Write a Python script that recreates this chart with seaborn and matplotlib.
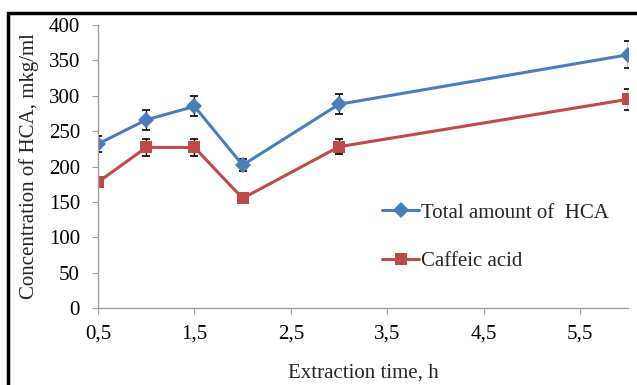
import matplotlib
matplotlib.use("Agg")
import matplotlib.pyplot as plt
from matplotlib.patches import Rectangle
from matplotlib.ticker import FuncFormatter
import numpy as np
import pandas as pd
import seaborn as sns

hours = [0.5, 1, 1.5, 2, 3, 6]
total_hca = [232, 266, 285, 202, 288, 358]
total_err = [11, 14, 14, 9, 14, 19]
caffeic = [178, 227, 227, 155, 228, 295]
caffeic_err = [6, 12, 12, 5, 11, 15]
names = ["Total amount of  HCA", "Caffeic acid"]

df = pd.DataFrame({
    "time": hours * 2,
    "conc": total_hca + caffeic,
    "series": [names[0]] * len(hours) + [names[1]] * len(hours),
})

sns.set_style("white")
plt.rcParams["font.family"] = ["Liberation Serif", "DejaVu Serif"]

fig = plt.figure(figsize=(6.37, 3.85), dpi=100)
ax = fig.add_axes([0.154, 0.2, 0.832, 0.735])

colors = {names[0]: "#4a7ebb", names[1]: "#be4b48"}
sns.lineplot(data=df, x="time", y="conc", hue="series", style="series",
             markers={names[0]: "D", names[1]: "s"}, dashes=False,
             palette=colors, linewidth=2.2, markersize=8, markeredgewidth=0,
             ax=ax)

ax.errorbar(hours, total_hca, yerr=total_err, fmt="none", ecolor="black",
            elinewidth=1, capsize=3, capthick=1.2, zorder=1)
ax.errorbar(hours, caffeic, yerr=caffeic_err, fmt="none", ecolor="black",
            elinewidth=1, capsize=3, capthick=1.2, zorder=1)

ax.set_xlim(0.5, 6)
ax.set_ylim(0, 400)
ax.set_xticks([0.5, 1.5, 2.5, 3.5, 4.5, 5.5])
ax.set_yticks(range(0, 401, 50))
ax.xaxis.set_major_formatter(FuncFormatter(lambda v, p: f"{v:.1f}".replace(".", ",")))
for s in ["top", "right"]:
    ax.spines[s].set_visible(False)
for s in ["left", "bottom"]:
    ax.spines[s].set_color("#a0a0a0")
    ax.spines[s].set_linewidth(1)
ax.tick_params(axis="both", direction="out", length=4, color="#a0a0a0",
               labelsize=15, colors="#a0a0a0", labelcolor="black", left=True, bottom=True)
ax.tick_params(axis="x", pad=8)
ax.tick_params(axis="y", pad=9)
ax.set_xlabel("Extraction time, h", fontsize=15, labelpad=14)
ax.set_ylabel("Concentration of HCA, mkg/ml", fontsize=15, labelpad=7)

leg = ax.legend(loc="center left", bbox_to_anchor=(0.5, 0.25), frameon=False,
                fontsize=15, handlelength=1.8, handletextpad=0.1, labelspacing=1.4)

fig.patches.append(Rectangle((8 / 637, -0.05), 1.0, 1 - 13 / 385 + 0.05,
                             transform=fig.transFigure, fill=False,
                             edgecolor="black", linewidth=2.5))

fig.savefig("out.png", dpi=100)
